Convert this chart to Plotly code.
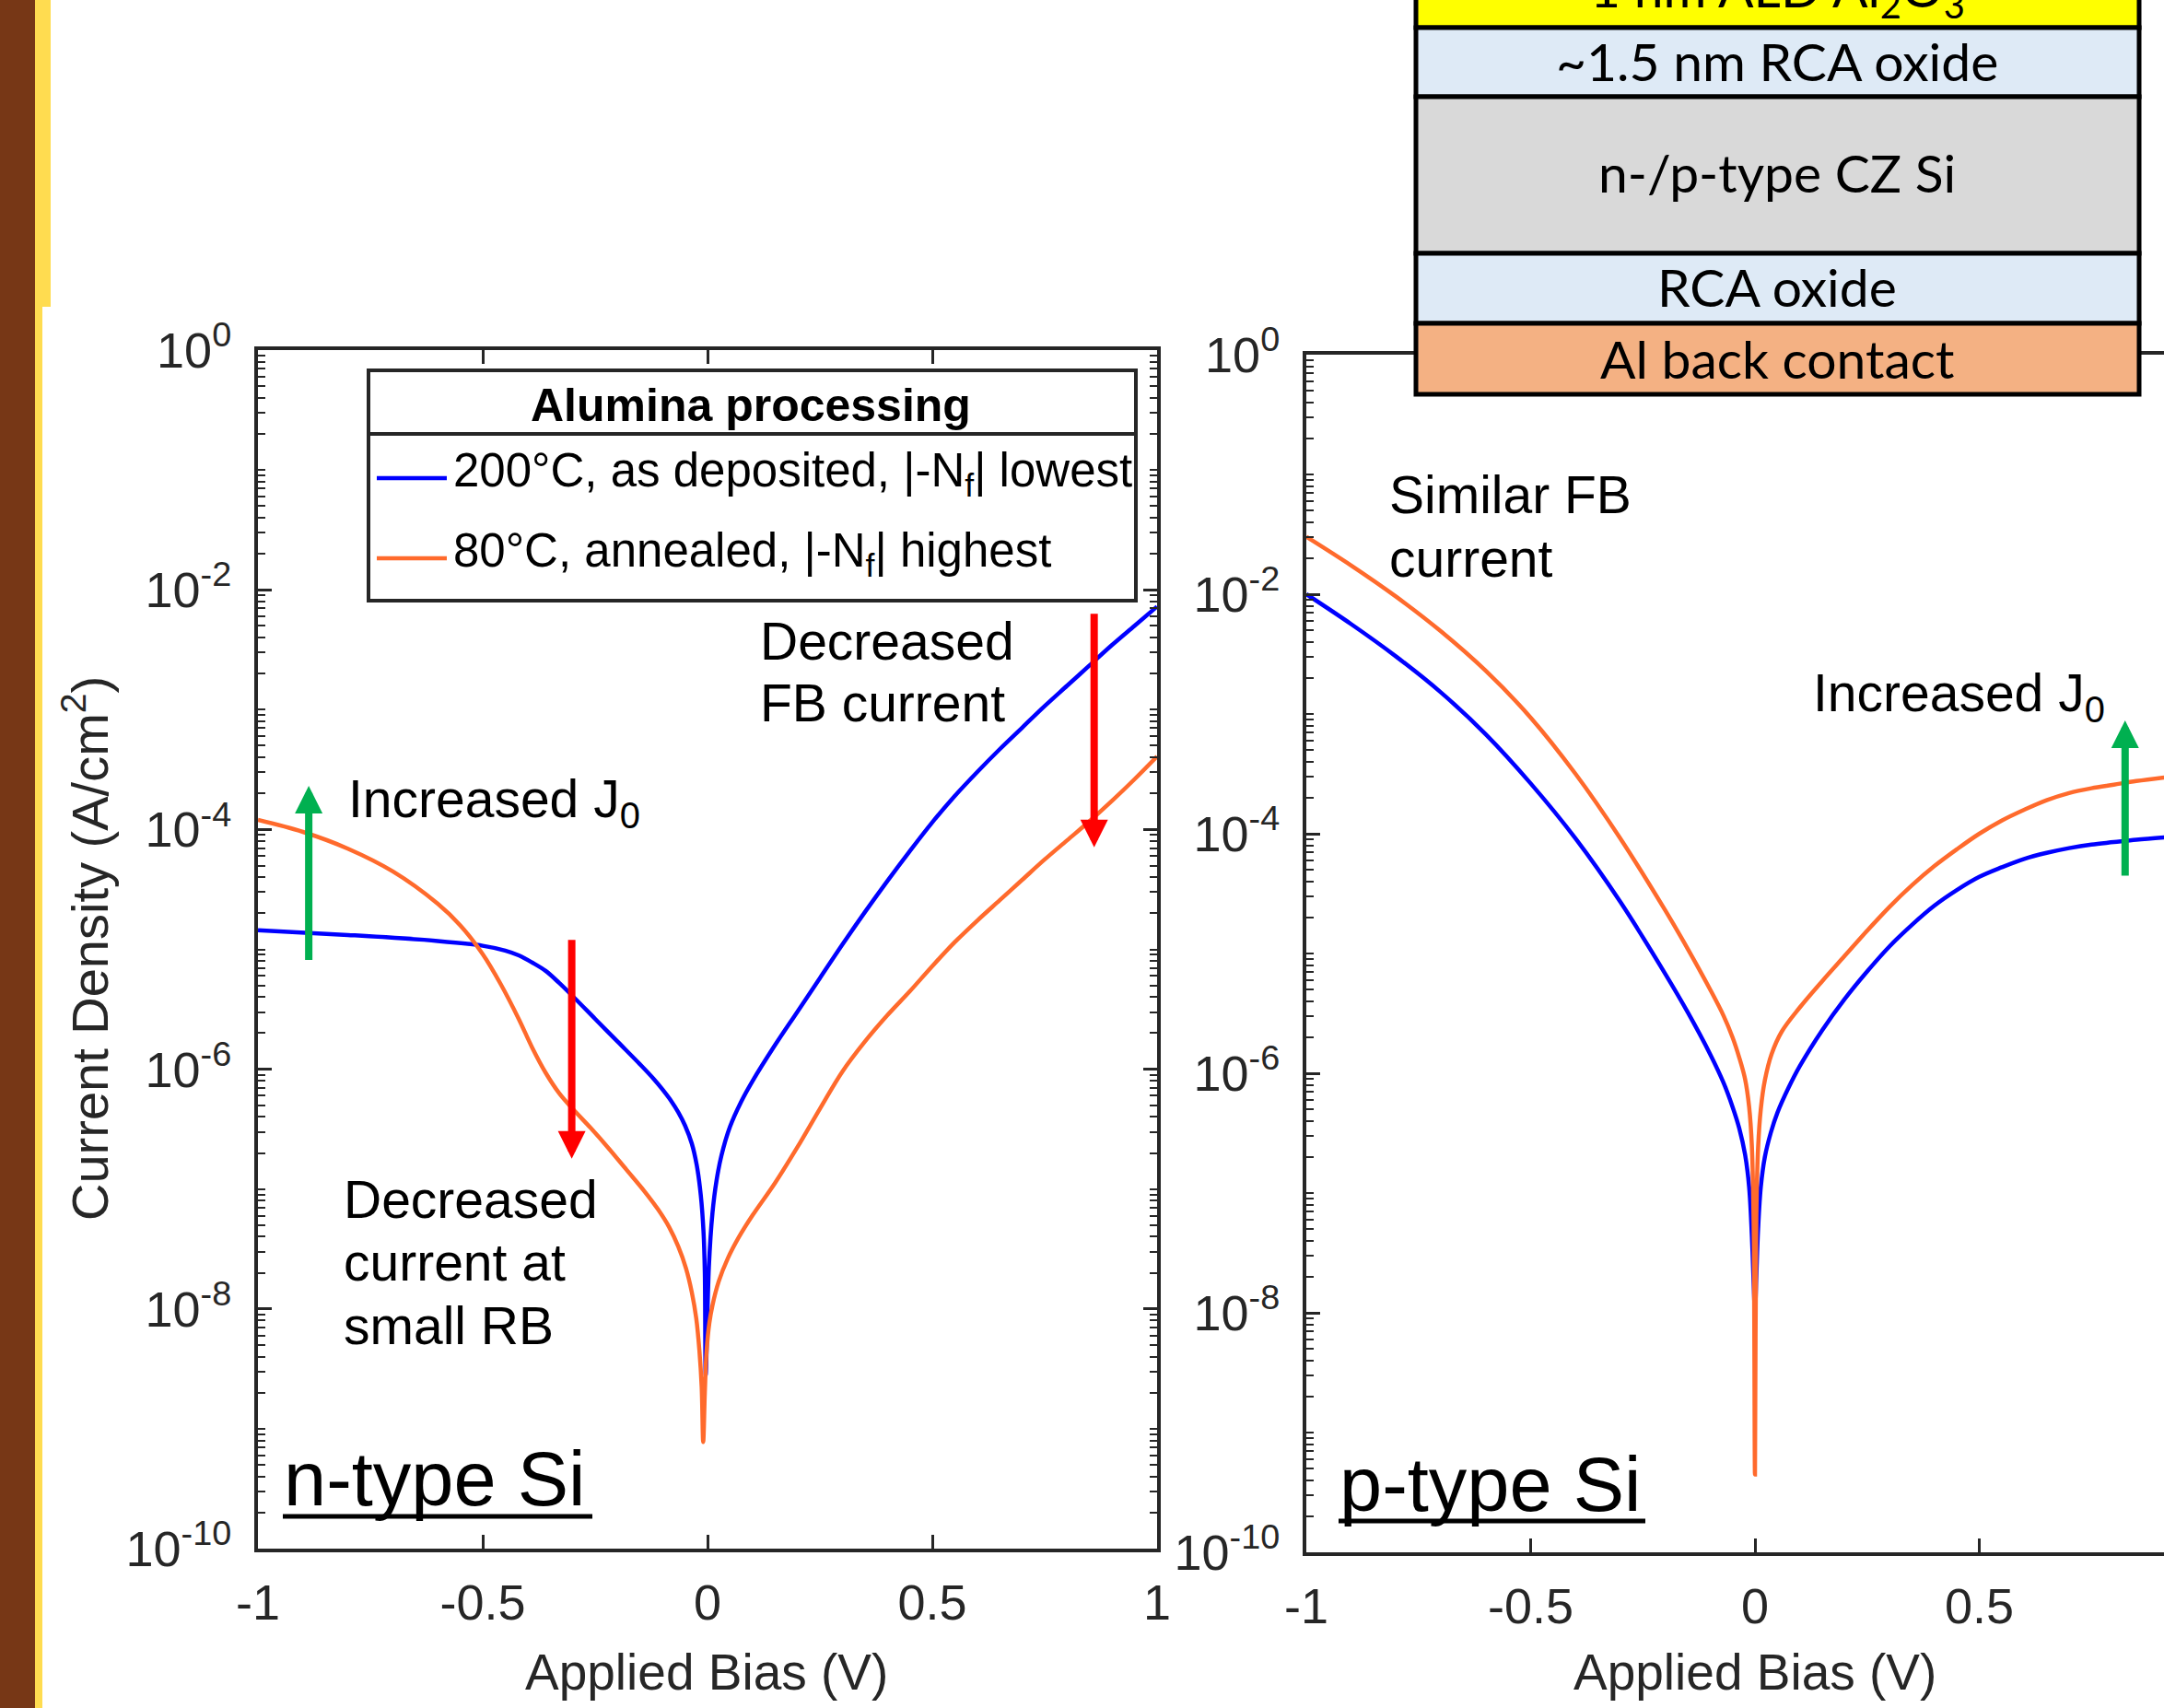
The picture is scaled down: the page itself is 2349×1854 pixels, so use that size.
import plotly.graph_objects as go

W, H = 2349, 1854
FONT = "Liberation Sans, Arial, Helvetica, sans-serif"
BOX_FONT = "Lato, Open Sans, sans-serif"
INK = "#262626"
BLUE = "#0000FF"
ORANGE = "#FF6A2C"
RED = "#FF0000"
GREEN = "#00B050"

# ---- n-type Si: applied bias (V) vs log10 of current density (A/cm^2)
n_bias_200 = [-1.0, -0.8, -0.6, -0.5, -0.45, -0.42, -0.39, -0.36, -0.33, -0.3, -0.25,
              -0.2, -0.15, -0.12, -0.1, -0.08, -0.065, -0.05, -0.035, -0.024, -0.015,
              -0.009, -0.006, -0.004,
              0.003, 0.011, 0.02, 0.031, 0.05, 0.075, 0.1, 0.15, 0.2, 0.25, 0.3, 0.35,
              0.4, 0.45, 0.5, 0.55, 0.6, 0.65, 0.7, 0.75, 0.8, 0.85, 0.9, 0.95, 1.0]
n_logj_200 = [-4.84, -4.88, -4.93, -4.97, -5.01, -5.05, -5.11, -5.18, -5.28, -5.39, -5.58,
              -5.77, -5.96, -6.08, -6.17, -6.27, -6.36, -6.47, -6.62, -6.80, -7.05,
              -7.35, -7.70, -8.55,
              -7.65, -7.20, -6.93, -6.72, -6.48, -6.27, -6.10, -5.80, -5.52, -5.24, -4.96,
              -4.69, -4.43, -4.18, -3.94, -3.72, -3.52, -3.33, -3.15, -2.97, -2.80, -2.63,
              -2.46, -2.30, -2.14]

n_bias_80 = [-1.0, -0.9, -0.8, -0.7, -0.6, -0.55, -0.5, -0.46, -0.42, -0.39, -0.36,
             -0.33, -0.3, -0.26, -0.22, -0.18, -0.14, -0.11, -0.085, -0.065, -0.048,
             -0.035, -0.025, -0.018, -0.013, -0.0096, -0.006, -0.002, 0.004, 0.011,
             0.025, 0.045, 0.07, 0.1, 0.15, 0.2, 0.25, 0.3, 0.35, 0.4, 0.45, 0.5, 0.55,
             0.6, 0.65, 0.7, 0.75, 0.8, 0.85, 0.9, 0.95, 1.0]
n_logj_80 = [-3.92, -4.02, -4.16, -4.35, -4.62, -4.80, -5.04, -5.29, -5.58, -5.82, -6.03,
             -6.20, -6.33, -6.49, -6.66, -6.84, -7.02, -7.17, -7.32, -7.48, -7.66,
             -7.86, -8.08, -8.35, -8.65, -9.11, -8.70, -8.35, -8.12, -7.97,
             -7.77, -7.58, -7.40, -7.22, -6.95, -6.65, -6.33, -6.02, -5.77, -5.55, -5.35,
             -5.14, -4.94, -4.76, -4.59, -4.42, -4.25, -4.09, -3.93, -3.76, -3.58, -3.39]

# ---- p-type Si
p_bias_200 = [-1.0, -0.9, -0.8, -0.7, -0.6, -0.5, -0.4, -0.3, -0.2, -0.15, -0.1,
              -0.07, -0.05, -0.035, -0.022, -0.013, -0.007, -0.003, 0.0, 0.003, 0.007,
              0.013, 0.022, 0.035, 0.05, 0.075, 0.1, 0.15, 0.2, 0.25, 0.3, 0.35, 0.4,
              0.45, 0.5, 0.55, 0.6, 0.65, 0.7, 0.75, 0.8, 0.85, 0.912]
p_logj_200 = [-2.00, -2.25, -2.52, -2.82, -3.17, -3.58, -4.04, -4.57, -5.17, -5.49, -5.84,
              -6.08, -6.28, -6.46, -6.68, -6.95, -7.35, -7.75, -8.00, -7.70, -7.30,
              -6.95, -6.70, -6.50, -6.33, -6.12, -5.94, -5.64, -5.38, -5.15, -4.94, -4.76,
              -4.60, -4.47, -4.36, -4.28, -4.21, -4.16, -4.12, -4.09, -4.07, -4.05, -4.03]

p_bias_80 = [-1.0, -0.9, -0.8, -0.7, -0.6, -0.5, -0.4, -0.3, -0.2, -0.15, -0.1,
             -0.07, -0.05, -0.035, -0.022, -0.013, -0.007, -0.003, 0.0, 0.003, 0.007,
             0.013, 0.022, 0.037, 0.06, 0.1, 0.15, 0.2, 0.25, 0.3, 0.35, 0.4, 0.45,
             0.5, 0.55, 0.6, 0.65, 0.7, 0.75, 0.8, 0.85, 0.912]
p_logj_80 = [-1.52, -1.76, -2.02, -2.31, -2.64, -3.03, -3.50, -4.04, -4.64, -4.96, -5.30,
             -5.52, -5.70, -5.87, -6.05, -6.28, -6.60, -7.25, -9.35, -7.20, -6.62,
             -6.30, -6.06, -5.84, -5.65, -5.45, -5.23, -5.02, -4.81, -4.61, -4.43, -4.27,
             -4.13, -4.00, -3.89, -3.80, -3.72, -3.66, -3.62, -3.59, -3.56, -3.53]

series_names = ["200°C, as deposited, |-N<sub>f</sub>| lowest",
                "80°C, annealed, |-N<sub>f</sub>| highest"]

x_tick_vals = [-1, -0.5, 0, 0.5, 1]
x_tick_text = ["-1", "-0.5", "0", "0.5", "1"]
y_tick_exps = [0, -2, -4, -6, -8, -10]

stack_layers = ["1 nm ALD Al<sub>2</sub>O<sub>3</sub>", "~1.5 nm RCA oxide",
                "n-/p-type CZ Si", "RCA oxide", "Al back contact"]
stack_colors = ["#FFFF00", "#DEEAF6", "#D9D9D9", "#DEEAF6", "#F4B183"]


def px_x(px):
    return px / W


def px_y(py):
    return 1 - py / H


fig = go.Figure()
for bias, logj, color, name, xa, ya in [
    (n_bias_200, n_logj_200, BLUE, series_names[0], "x", "y"),
    (n_bias_80, n_logj_80, ORANGE, series_names[1], "x", "y"),
    (p_bias_200, p_logj_200, BLUE, series_names[0], "x2", "y2"),
    (p_bias_80, p_logj_80, ORANGE, series_names[1], "x2", "y2"),
]:
    fig.add_trace(go.Scatter(
        x=bias, y=[10 ** v for v in logj], mode="lines", name=name,
        line=dict(color=color, width=4.5, shape="spline", smoothing=1.0),
        xaxis=xa, yaxis=ya, showlegend=False, hoverinfo="skip"))

minor_vals = []
for d in range(-10, 0):
    for k in range(1, 10):
        if k == 1 and d % 2 == 0:
            continue
        minor_vals.append(k * 10.0 ** d)

tick_font = dict(family=FONT, size=54, color=INK)


def xaxis_style(domain, rng, mirror, anchor):
    return dict(domain=domain, range=rng, tickmode="array", tickvals=x_tick_vals,
                ticktext=x_tick_text, ticks="inside", ticklen=15, tickwidth=3,
                tickcolor=INK, showline=True, linecolor=INK, linewidth=4,
                mirror=mirror, showgrid=False, zeroline=False, tickfont=tick_font,
                ticklabelstandoff=8, anchor=anchor, automargin=False)


def yaxis_style(domain, mirror, anchor):
    return dict(type="log", domain=domain, range=[-10, 0], tickmode="array",
                tickvals=[10.0 ** e for e in y_tick_exps],
                ticktext=["10<sup>%d</sup>" % e for e in y_tick_exps],
                ticks="inside", ticklen=15, tickwidth=3, tickcolor=INK,
                minor=dict(tickmode="array", tickvals=minor_vals, ticks="inside",
                           ticklen=8, tickwidth=2, tickcolor=INK, showgrid=False),
                showline=True, linecolor=INK, linewidth=4, mirror=mirror,
                showgrid=False, zeroline=False, tickfont=tick_font,
                ticklabelstandoff=14, anchor=anchor, automargin=False)


xa1 = xaxis_style([px_x(280), px_x(1256)], [-1, 1], "ticks", "y")
xa2 = xaxis_style([px_x(1418), 1.0], [-1, (2349 - 1905) / 487], "ticks", "y2")
ya1 = yaxis_style([px_y(1681), px_y(380)], "ticks", "x")
ya2 = yaxis_style([px_y(1685), px_y(385)], False, "x2")

shapes = []
annotations = []


def text_line(text, x, baseline, size, anchor="left", color="black",
              family=FONT, asc=0.905, desc=0.212):
    mid = baseline - (asc - desc) / 2 * size
    annotations.append(dict(text=text, x=px_x(x), y=px_y(mid), xref="paper",
                            yref="paper", xanchor=anchor, yanchor="middle",
                            showarrow=False, borderpad=0,
                            font=dict(family=family, size=size, color=color)))


def underline(x0, x1, y):
    shapes.append(dict(type="line", xref="paper", yref="paper", x0=px_x(x0), x1=px_x(x1),
                       y0=px_y(y), y1=px_y(y), line=dict(color="black", width=5),
                       layer="above"))


def arrow(x, y_tail, y_head, color, xref, yref):
    annotations.append(dict(x=x, y=y_head, ax=x, ay=y_tail, xref=xref, yref=yref,
                            axref=xref, ayref=yref, text="", showarrow=True,
                            arrowhead=2, arrowsize=0.75, arrowwidth=8,
                            arrowcolor=color, standoff=0))


# decorative side strip
shapes.append(dict(type="rect", xref="paper", yref="paper", x0=0, x1=px_x(38),
                   y0=0, y1=1, fillcolor="#773716", line=dict(width=0), layer="below"))
shapes.append(dict(type="rect", xref="paper", yref="paper", x0=px_x(38), x1=px_x(55),
                   y0=px_y(333), y1=1, fillcolor="#FFDC50", line=dict(width=0), layer="below"))
shapes.append(dict(type="rect", xref="paper", yref="paper", x0=px_x(38), x1=px_x(46),
                   y0=0, y1=px_y(333), fillcolor="#FFDC50", line=dict(width=0), layer="below"))

# legend box for the n-type panel
shapes.append(dict(type="rect", xref="paper", yref="paper", x0=px_x(400), x1=px_x(1233),
                   y0=px_y(652), y1=px_y(402), fillcolor="white",
                   line=dict(color=INK, width=4), layer="above"))
shapes.append(dict(type="line", xref="paper", yref="paper", x0=px_x(400), x1=px_x(1233),
                   y0=px_y(471), y1=px_y(471), line=dict(color=INK, width=4), layer="above"))
for yk, color in [(519, BLUE), (606, ORANGE)]:
    shapes.append(dict(type="line", xref="paper", yref="paper", x0=px_x(409), x1=px_x(485),
                       y0=px_y(yk), y1=px_y(yk), line=dict(color=color, width=4.5),
                       layer="above"))
text_line("<b>Alumina processing</b>", 815, 457, 50, anchor="center")
text_line(series_names[0], 491, 532, 51)
text_line(series_names[1], 491, 619, 51)

# device stack schematic
bounds = [-20, 30, 105, 275, 351, 428]
for i, (label, fill) in enumerate(zip(stack_layers, stack_colors)):
    shapes.append(dict(type="rect", xref="paper", yref="paper", x0=px_x(1537), x1=px_x(2322),
                       y0=px_y(bounds[i + 1]), y1=px_y(bounds[i]), fillcolor=fill,
                       line=dict(color="black", width=5), layer="above"))
stack_baselines = [12, 88, 209, 333, 411]
for label, base in zip(stack_layers, stack_baselines):
    text_line(label, 1929, base, 57, anchor="center", family=BOX_FONT,
              asc=0.987, desc=0.213)

# axis titles
text_line("Applied Bias (V)", 767, 1834, 55, anchor="center", color=INK)
text_line("Applied Bias (V)", 1905, 1834, 55, anchor="center", color=INK)
annotations.append(dict(text="Current Density (A/cm<sup>2</sup>)", x=px_x(93), y=px_y(1030),
                        xref="paper", yref="paper", xanchor="center", yanchor="middle",
                        textangle=-90, showarrow=False,
                        font=dict(family=FONT, size=56, color=INK)))

# panel notes
text_line("Increased J<sub>0</sub>", 377, 891, 57)
text_line("Decreased", 824, 716, 57)
text_line("FB current", 824, 783, 57)
text_line("Decreased", 372, 1322, 57)
text_line("current at", 372, 1390, 57)
text_line("small RB", 372, 1459, 57)
text_line("n-type Si", 307, 1634, 83)
underline(307, 643, 1646)
text_line("Similar FB", 1507, 557, 57)
text_line("current", 1507, 626, 57)
text_line("Increased J<sub>0</sub>", 1967, 776, 57)
text_line("p-type Si", 1453, 1640, 83)
underline(1453, 1786, 1651)

# arrows (log-axis annotations take log10 values)
arrow(-0.887, -5.10, -3.636, GREEN, "x", "y")
arrow(-0.302, -4.909, -6.747, RED, "x", "y")
arrow(0.860, -2.188, -4.148, RED, "x", "y")
arrow(0.825, -4.362, -3.054, GREEN, "x2", "y2")

fig.update_layout(
    template="none",
    width=W, height=H, autosize=False,
    margin=dict(l=0, r=0, t=0, b=0, pad=0),
    paper_bgcolor="white", plot_bgcolor="white",
    xaxis=xa1, yaxis=ya1, xaxis2=xa2, yaxis2=ya2,
    shapes=shapes, annotations=annotations, showlegend=False,
    font=dict(family=FONT, color=INK),
)

fig.write_html("out.html")
